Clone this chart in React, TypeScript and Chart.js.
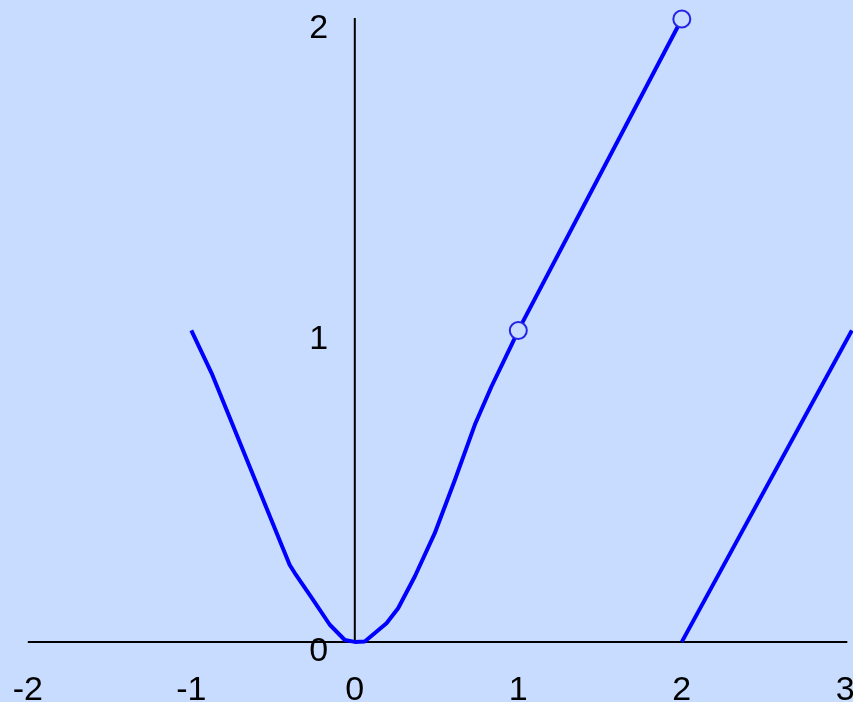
import React, { useEffect, useRef } from "react";
import { Chart, registerables } from "chart.js";

Chart.register(...registerables);

// Curve piece from x = -1 to x = 1
const curveX = [-1, -0.876, -0.448, -0.398, -0.367, -0.255, -0.153, -0.061, 0, 0.061, 0.194, 0.265, 0.367, 0.489, 0.612, 0.734, 0.836, 0.958, 1];
const curveY = [1, 0.863, 0.311, 0.247, 0.221, 0.135, 0.055, 0.006, 0, 0.001, 0.06, 0.108, 0.21, 0.349, 0.52, 0.697, 0.82, 0.953, 1];

// Straight piece from (1,1) to (2,2)
const midX = [1, 2];
const midY = [1, 2];

// Straight piece starting at (2,0), running off the right edge
const rightX = [2, 3.04];
const rightY = [0, 1];

// Open circles
const openX = [1, 2];
const openY = [1, 2];

// Axis ticks
const xTicks = [-2, -1, 0, 1, 2, 3];
const yTicks = [0, 1, 2];

const BG = "#C8DCFF";
const LINE = "#0000FF";
const FONT = '34px "Liberation Sans", Arial, sans-serif';

const toPts = (xs: number[], ys: number[]) => xs.map((x, i) => ({ x, y: ys[i] }));

const axesPlugin = {
  id: "centeredAxes",
  beforeDatasetsDraw(chart: any) {
    const { ctx, scales } = chart;
    const xs = scales.x;
    const ys = scales.y;
    const x0 = xs.getPixelForValue(0);
    const y0 = ys.getPixelForValue(0);
    ctx.save();
    ctx.strokeStyle = "#000000";
    ctx.lineWidth = 2;
    ctx.beginPath();
    ctx.moveTo(xs.getPixelForValue(xTicks[0]), y0);
    ctx.lineTo(xs.getPixelForValue(xTicks[xTicks.length - 1]) + 2, y0);
    ctx.stroke();
    ctx.beginPath();
    ctx.moveTo(x0, y0);
    ctx.lineTo(x0, ys.getPixelForValue(yTicks[yTicks.length - 1]) - 1);
    ctx.stroke();

    ctx.fillStyle = "#000000";
    ctx.font = FONT;
    ctx.textBaseline = "alphabetic";
    ctx.textAlign = "center";
    xTicks.forEach((t) => {
      ctx.fillText(String(t), xs.getPixelForValue(t), y0 + 58);
    });
    yTicks.forEach((t) => {
      ctx.fillText(String(t), x0 - 36, ys.getPixelForValue(t) + 19);
    });
    ctx.restore();
  },
};

export default function App() {
  const ref = useRef<HTMLCanvasElement | null>(null);

  useEffect(() => {
    if (!ref.current) return;
    const lineDs = (xs: number[], ys: number[]) => ({
      data: toPts(xs, ys),
      showLine: true,
      borderColor: LINE,
      borderWidth: 4,
      pointRadius: 0,
      pointHoverRadius: 0,
      borderJoinStyle: "round" as const,
      tension: 0,
      fill: false,
      order: 2,
    });
    const chart = new Chart(ref.current, {
      type: "scatter",
      data: {
        datasets: [
          lineDs(curveX, curveY),
          lineDs(midX, midY),
          lineDs(rightX, rightY),
          {
            data: toPts(openX, openY),
            showLine: false,
            pointRadius: 8.5,
            pointHoverRadius: 8.5,
            pointStyle: "circle",
            pointBackgroundColor: BG,
            pointBorderColor: "#2424E6",
            pointBorderWidth: 2,
            order: 1,
          },
        ],
      },
      options: {
        animation: false,
        responsive: false,
        maintainAspectRatio: false,
        layout: { padding: 0, autoPadding: false },
        plugins: {
          legend: { display: false },
          tooltip: { enabled: false },
          title: { display: false },
        },
        events: [],
        scales: {
          x: { type: "linear", display: false, min: -2.17, max: 3.047 },
          y: { type: "linear", display: false, min: -0.193, max: 2.061 },
        },
      },
      plugins: [axesPlugin],
    });
    return () => chart.destroy();
  }, []);

  return (
    <div
      style={{
        position: "absolute",
        left: 0,
        top: 0,
        width: 853,
        height: 702,
        background: BG,
        overflow: "hidden",
      }}
    >
      <canvas ref={ref} width={853} height={702} style={{ display: "block" }} />
    </div>
  );
}
